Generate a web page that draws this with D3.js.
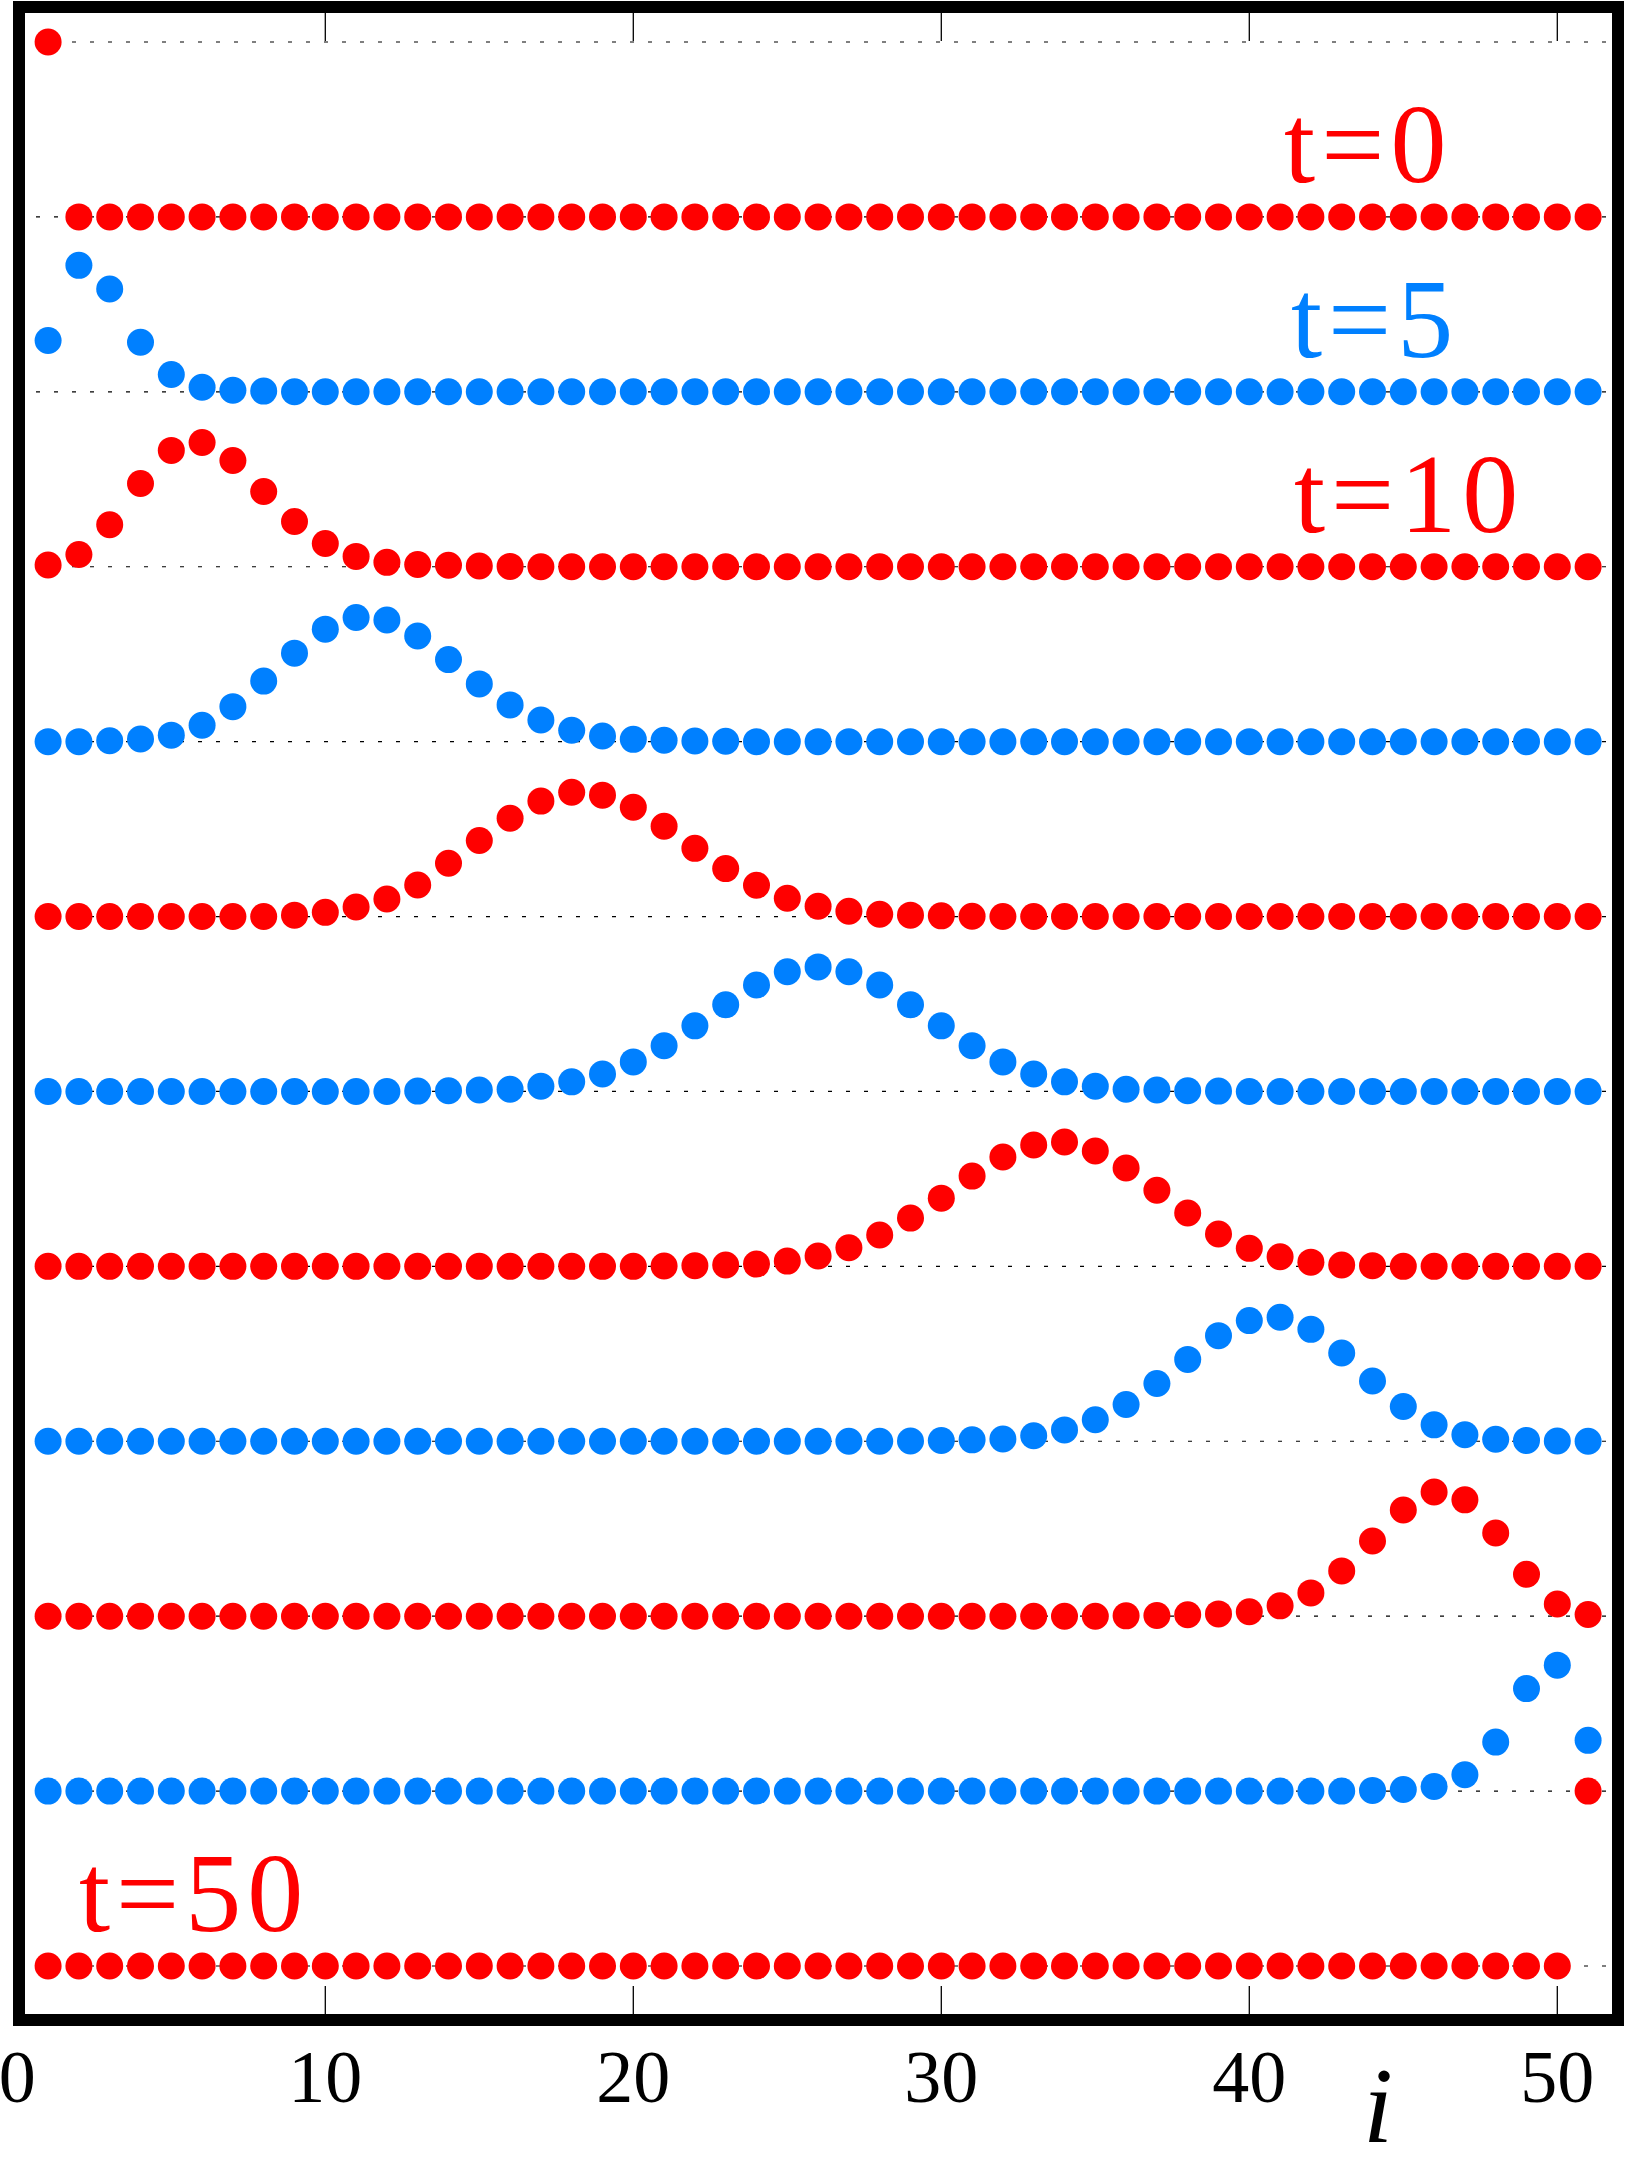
<!DOCTYPE html>
<meta charset="utf-8">
<style>
body { margin: 0; background: #fff; }
text { font-family: 'Liberation Serif', 'Times New Roman', serif; }
</style>
<svg width="1625" height="2165"></svg>
<script src="https://d3js.org/d3.v7.min.js"></script>
<script>
// site index i = 1..51
var sites = d3.range(1, 52);

// profiles, one per snapshot (height in row spacings)
var t0 = [1,0,0,0,0,0,0,0,0,0,
  0,0,0,0,0,0,0,0,0,0,
  0,0,0,0,0,0,0,0,0,0,
  0,0,0,0,0,0,0,0,0,0,
  0,0,0,0,0,0,0,0,0,0,
  0];
var t5 = [0.293,0.723,0.588,0.283,0.099,0.026,0.009,0.004,0,0,
  0,0,0,0,0,0,0,0,0,0,
  0,0,0,0,0,0,0,0,0,0,
  0,0,0,0,0,0,0,0,0,0,
  0,0,0,0,0,0,0,0,0,0,
  0];
var t10 = [0.01,0.07,0.24,0.476,0.665,0.71,0.607,0.43,0.259,0.133,
  0.059,0.025,0.013,0.008,0.004,0.002,0,0,0,0,
  0,0,0,0,0,0,0,0,0,0,
  0,0,0,0,0,0,0,0,0,0,
  0,0,0,0,0,0,0,0,0,0,
  0];
var t15 = [0,0,0.005,0.015,0.037,0.094,0.2,0.346,0.506,0.643,
  0.71,0.695,0.604,0.469,0.33,0.21,0.124,0.065,0.032,0.013,
  0.008,0.004,0.002,0,0,0,0,0,0,0,
  0,0,0,0,0,0,0,0,0,0,
  0,0,0,0,0,0,0,0,0,0,
  0];
var t20 = [0,0,0,0,0,0,0,0,0.008,0.024,
  0.055,0.1,0.18,0.305,0.435,0.562,0.66,0.711,0.694,0.625,
  0.516,0.39,0.274,0.179,0.105,0.059,0.03,0.013,0.008,0.004,
  0.002,0,0,0,0,0,0,0,0,0,
  0,0,0,0,0,0,0,0,0,0,
  0];
var t25 = [0,0,0,0,0,0,0,0,0,0,
  0,0,0.002,0.004,0.008,0.013,0.03,0.055,0.1,0.169,
  0.261,0.375,0.495,0.609,0.684,0.712,0.684,0.609,0.495,0.375,
  0.261,0.169,0.1,0.055,0.03,0.013,0.008,0.004,0.002,0,
  0,0,0,0,0,0,0,0,0,0,
  0];
var t30 = [0,0,0,0,0,0,0,0,0,0,
  0,0,0,0,0,0,0,0,0,0,
  0.002,0.004,0.008,0.013,0.03,0.059,0.106,0.179,0.276,0.39,
  0.516,0.625,0.694,0.711,0.66,0.562,0.435,0.305,0.185,0.103,
  0.055,0.024,0.008,0.004,0,0,0,0,0,0,
  0];
var t35 = [0,0,0,0,0,0,0,0,0,0,
  0,0,0,0,0,0,0,0,0,0,
  0,0,0,0,0,0,0,0,0.002,0.004,
  0.008,0.013,0.032,0.065,0.123,0.21,0.33,0.468,0.604,0.69,
  0.709,0.64,0.505,0.345,0.199,0.094,0.037,0.012,0.005,0.002,
  0];
var t40 = [0,0,0,0,0,0,0,0,0,0,
  0,0,0,0,0,0,0,0,0,0,
  0,0,0,0,0,0,0,0,0,0,
  0,0,0,0,0,0.002,0.004,0.008,0.013,0.025,
  0.059,0.133,0.259,0.43,0.607,0.71,0.665,0.476,0.24,0.07,
  0.01];
var t45 = [0,0,0,0,0,0,0,0,0,0,
  0,0,0,0,0,0,0,0,0,0,
  0,0,0,0,0,0,0,0,0,0,
  0,0,0,0,0,0,0,0,0,0,
  0,0,0,0.004,0.009,0.026,0.093,0.28,0.586,0.72,
  0.29];
var t50 = [0,0,0,0,0,0,0,0,0,0,
  0,0,0,0,0,0,0,0,0,0,
  0,0,0,0,0,0,0,0,0,0,
  0,0,0,0,0,0,0,0,0,0,
  0,0,0,0,0,0,0,0,0,0,
  1];

var series = [t0, t5, t10, t15, t20, t25, t30, t35, t40, t45, t50];
var xTickValues = [0, 10, 20, 30, 40, 50];
var gridValues = d3.range(1, -11, -1);   // 1, 0, -1 ... -10
var labelText = ["t=0", "t=5", "t=10", "t=50"];
var labelRow = [0, 1, 2, 10];

var colors = ["#ff0000", "#0080ff"];

var svg = d3.select("svg"),
    width = +svg.attr("width"),
    height = +svg.attr("height");

// frame (inner edges 25..1612, 13..2014)
var frame = {left: 19, top: 7, right: 1618, bottom: 2020, stroke: 12};
var inner = {left: frame.left + frame.stroke / 2, right: frame.right - frame.stroke / 2,
             top: frame.top + frame.stroke / 2, bottom: frame.bottom - frame.stroke / 2};

var x = d3.scaleLinear().domain([0, 50]).range([17.3, 1557.3]);
var y = d3.scaleLinear().domain([1, -10]).range([42, 1966]);

svg.append("rect").attr("width", width).attr("height", height).attr("fill", "#fff");

// dashed gridlines at each row
svg.append("g")
  .selectAll("line")
  .data(gridValues)
  .enter().append("line")
    .attr("x1", 0)
    .attr("x2", inner.right)
    .attr("y1", function(d) { return y(d); })
    .attr("y2", function(d) { return y(d); })
    .attr("stroke", "#000")
    .attr("stroke-width", 1.2)
    .attr("stroke-dasharray", "4,14");

// inward ticks top and bottom
var tickLen = 28;
var ticks = svg.append("g").attr("stroke", "#000").attr("stroke-width", 1.3);
ticks.selectAll(".top")
  .data(xTickValues.slice(1))
  .enter().append("line")
    .attr("x1", function(d) { return x(d); })
    .attr("x2", function(d) { return x(d); })
    .attr("y1", inner.top)
    .attr("y2", inner.top + tickLen);
ticks.selectAll(".bot")
  .data(xTickValues.slice(1))
  .enter().append("line")
    .attr("x1", function(d) { return x(d); })
    .attr("x2", function(d) { return x(d); })
    .attr("y1", inner.bottom - tickLen)
    .attr("y2", inner.bottom);

// dots, one row per snapshot, shifted down by row index
svg.append("g")
  .selectAll("g")
  .data(series)
  .enter().append("g")
    .attr("fill", function(d, k) { return colors[k % 2]; })
  .selectAll("circle")
  .data(function(d, k) { return d.map(function(v, j) { return {i: sites[j], v: v, k: k}; }); })
  .enter().append("circle")
    .attr("cx", function(d) { return x(d.i); })
    .attr("cy", function(d) { return y(d.v - d.k); })
    .attr("r", 13.5);

// white strip left of the frame so gridline stubs don't show
svg.append("rect")
  .attr("x", 0).attr("y", 0)
  .attr("width", frame.left).attr("height", height)
  .attr("fill", "#fff");

svg.append("rect")
  .attr("x", frame.left)
  .attr("y", frame.top)
  .attr("width", frame.right - frame.left)
  .attr("height", frame.bottom - frame.top)
  .attr("fill", "none")
  .attr("stroke", "#000")
  .attr("stroke-width", frame.stroke);

// tick labels
svg.append("g")
  .selectAll("text")
  .data(xTickValues)
  .enter().append("text")
    .attr("x", function(d) { return x(d); })
    .attr("y", 2102)
    .attr("text-anchor", "middle")
    .attr("font-size", 74)
    .text(function(d) { return d; });

// axis title
svg.append("text")
  .attr("x", 1378)
  .attr("y", 2142)
  .attr("text-anchor", "middle")
  .attr("font-size", 108)
  .attr("font-style", "italic")
  .text("i");

// snapshot labels
var labelX = [41.13, 41.35, 41.45, 2.0];
svg.append("g")
  .selectAll("text")
  .data(labelText)
  .enter().append("text")
    .attr("x", function(d, j) { return x(labelX[j]); })
    .attr("y", function(d, j) { return y(0.2 - labelRow[j]); })
    .attr("font-size", 112)
    .attr("letter-spacing", 6)
    .attr("fill", function(d, j) { return colors[labelRow[j] % 2]; })
    .text(function(d) { return d; });
</script>
